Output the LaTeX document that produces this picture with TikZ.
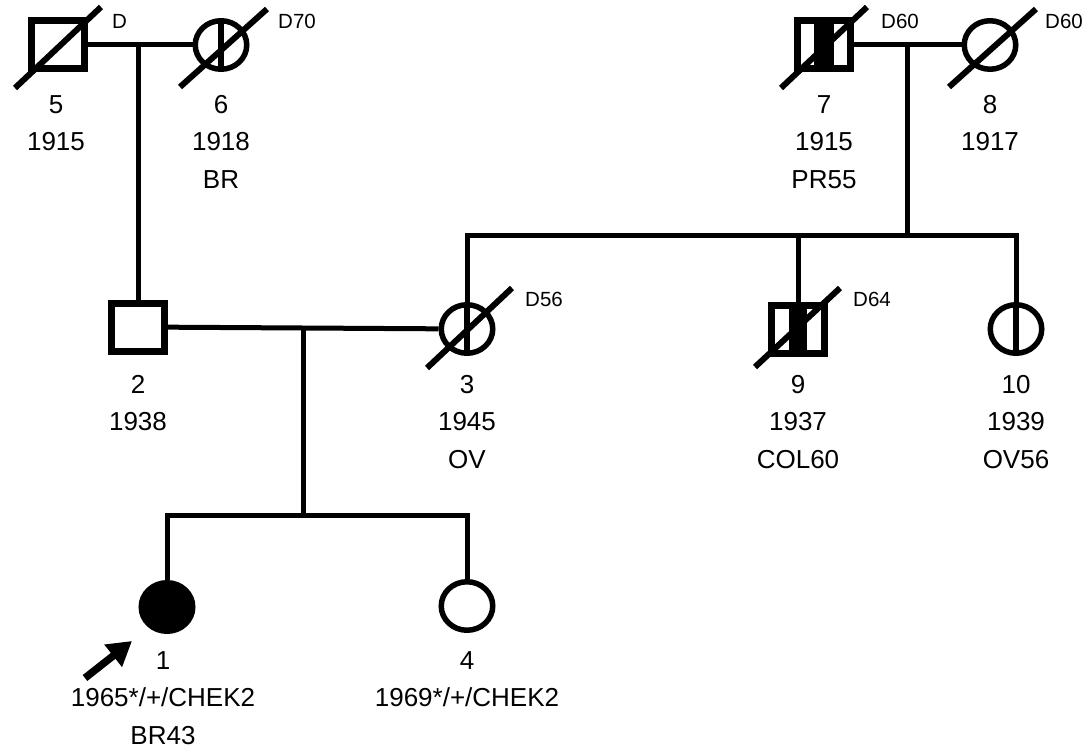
\documentclass[tikz,border=0pt]{standalone}
\usepackage{fontspec}
\setmainfont{Liberation Sans}
\usetikzlibrary{calc,shapes.geometric,arrows.meta}

\begin{document}
\begin{tikzpicture}[
    x=1pt, y=-1pt,
    male node/.style={rectangle, draw=black, fill=white, line width=7pt, minimum width=53pt, minimum height=48pt, inner sep=0pt},
    female node/.style={ellipse, draw=black, fill=white, line width=5.5pt, minimum width=51.5pt, minimum height=48.5pt, inner sep=0pt},
    aff node/.style={female node, fill=black},
    info node/.style={anchor=north, align=center, inner sep=0pt, font=\fontsize{26}{37.5}\selectfont},
    dead node/.style={anchor=west, inner sep=0pt, font=\fontsize{20.5}{22}\selectfont},
    main edge/.style={line width=5pt, draw=black},
    dead line/.style={line width=6pt, draw=black},
    mark line/.style={line width=6.5pt, draw=black}
]
\useasboundingbox (0,0) rectangle (1087,749);

% Generation I: two couples
\node[male node]   (P5)  at (58,45)   {};
\node[female node] (P6)  at (221,45)  {};
\node[male node]   (P7)  at (824,45)  {};
\node[female node] (P8)  at (990,45)  {};

% Generation II
\node[male node]   (P2)  at (138,327) {};
\node[female node] (P3)  at (467,329) {};
\node[male node]   (P9)  at (798,329) {};
\node[female node] (P10) at (1016,329) {};

% Generation III: proband 1 and sister 4
\node[aff node]    (P1)  at (167,607) {};
\node[female node] (P4)  at (467,606) {};

% marriage / sibship lines
\coordinate (M56) at (P2 |- P5);
\coordinate (M78) at (907,45);
\coordinate (S78) at (907,235);
\coordinate (M23) at (303,327);
\coordinate (S23) at (303,515);

\draw[main edge] (P5) -- (P6);
\draw[main edge] (M56) -- (P2);
\draw[main edge] (P7) -- (P8);
\draw[main edge] (M78) -- (S78);
\draw[main edge] (P3) -- (P3 |- S78) -- (P10 |- S78) -- (P10);
\draw[main edge] (P9 |- S78) -- (P9);
\draw[main edge] (P2) -- (P3);
\draw[main edge] (M23) -- (S23);
\draw[main edge] (P1) -- (P1 |- S23) -- (P4 |- S23) -- (P4);

% vertical marks
\draw[mark line] (P6.north)  -- (P6.south);
\draw[mark line] (P3.north)  -- (P3.south);
\draw[mark line] (P10.north) -- (P10.south);
\fill ($(P7.north)+(-10,0)$) rectangle ($(P7.south)+(10,0)$);
\fill ($(P9.north)+(-9,0)$) rectangle ($(P9.south)+(9,0)$);

% deceased
\draw[dead line] ($(P5)+(-43,43)$) -- ($(P5)+(43,-38)$);
\draw[dead line] ($(P6)+(-41,42)$) -- ($(P6)+(46,-36)$);
\draw[dead line] ($(P7)+(-43,43)$) -- ($(P7)+(43,-38)$);
\draw[dead line] ($(P8)+(-41,42)$) -- ($(P8)+(46,-36)$);
\draw[dead line] ($(P3)+(-40,39)$) -- ($(P3)+(45,-41)$);
\draw[dead line] ($(P9)+(-43,38)$) -- ($(P9)+(42,-41)$);

\node[dead node] (D5) at (112,21)  {D};
\node[dead node] (D6) at (278,21)  {D70};
\node[dead node] (D7) at (881,21)  {D60};
\node[dead node] (D8) at (1045,21) {D60};
\node[dead node] (D3) at (525,299) {D56};
\node[dead node] (D9) at (853,299) {D64};

% labels
\node[info node] (L5)  at (56,95)   {5\\1915};
\node[info node] (L6)  at (221,95)  {6\\1918\\BR};
\node[info node] (L7)  at (824,95)  {7\\1915\\PR55};
\node[info node] (L8)  at (990,95)  {8\\1917};
\node[info node] (L2)  at (138,375) {2\\1938};
\node[info node] (L3)  at (467,375) {3\\1945\\OV};
\node[info node] (L9)  at (798,375) {9\\1937\\COL60};
\node[info node] (L10) at (1016,375) {10\\1939\\OV56};
\node[info node] (L1)  at (163,651) {1\\1965*/+/CHEK2\\BR43};
\node[info node] (L4)  at (467,651) {4\\1969*/+/CHEK2};

% proband arrow
\coordinate (A1)  at (85,678);
\coordinate (A1t) at (132,641);
\draw[line width=7.5pt, -{Triangle[length=24pt,width=27pt]}] (A1) -- (A1t);

\end{tikzpicture}
\end{document}
